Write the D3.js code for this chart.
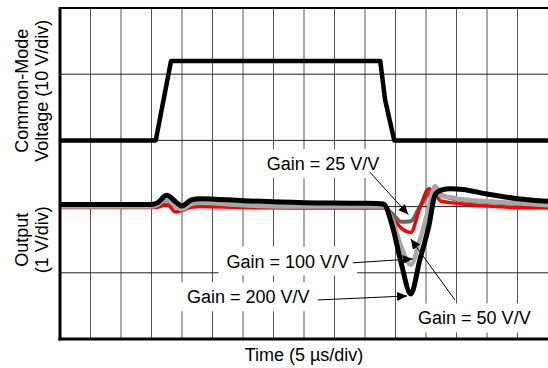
<!DOCTYPE html>
<html><head><meta charset="utf-8">
<script src="https://cdn.jsdelivr.net/npm/d3@7"></script>
<style>
html,body{margin:0;padding:0;background:#fff;}
svg{display:block;}
text{font-family:"Liberation Sans",Arial,sans-serif;fill:#000;}
</style></head><body>
<svg id="chart" width="548" height="368"></svg>
<script>
// ---- data ----
const timeGrid = d3.range(5, 80, 5);          // µs, 5 µs/div
const divGrid = [1, 2, 3, 4];                 // vertical divisions
const cmTime  = [0, 15.7, 18.2, 52.5, 53.3, 54.8, 80];
const cmVolts = [0, 0, 12, 12, 6.1, 0, 0];    // 10 V/div
const outTime = [0, 15, 16, 17.5, 19, 20, 21.5, 23, 30, 40, 50, 53, 54.5, 56, 57.5, 59, 60.5, 61.5, 62.5, 64, 66, 70, 75, 80];
const gain25  = [0, 0, 0.02, 0.10, 0.00, -0.03, 0.03, 0.05, 0.02, 0.00, 0.00, 0.00, -0.11, -0.23, -0.22, 0.00, 0.20, 0.27, 0.18, 0.13, 0.10, 0.07, 0.04, 0.02];
const gain50  = [-0.015, -0.015, -0.01, 0.03, -0.08, -0.06, -0.01, 0.00, -0.015, -0.02, -0.02, -0.02, -0.17, -0.33, -0.39, -0.02, 0.27, 0.19, 0.08, 0.06, 0.04, 0.01, -0.015, -0.02];
const gain100 = [0, 0, 0.03, 0.12, 0.00, -0.04, 0.04, 0.06, 0.02, 0.00, 0.00, 0.00, -0.20, -0.62, -0.88, -0.50, 0.00, 0.31, 0.16, 0.14, 0.11, 0.08, 0.05, 0.02];
const gain200 = [0.03, 0.03, 0.06, 0.17, 0.07, 0.01, 0.10, 0.12, 0.09, 0.06, 0.05, 0.04, -0.30, -0.88, -1.32, -0.80, -0.28, 0.18, 0.25, 0.27, 0.26, 0.19, 0.12, 0.08];
const gainLabels = ["Gain = 25 V/V", "Gain = 50 V/V", "Gain = 100 V/V", "Gain = 200 V/V"];
const yTitles = [["Common-Mode", "Voltage (10 V/div)"], ["Output", "(1 V/div)"]];
const xTitle = "Time (5 µs/div)";

// ---- layout ----
const L = 60, R = 548, T = 8, B = 339;
const svg = d3.select("#chart");
const x = d3.scaleLinear().domain([0, 80]).range([L, R]);
const yDiv = d3.scaleLinear().domain([0, 5]).range([B, T]);
const yCM = d3.scaleLinear().domain([-30, 20]).range([B, T]);
const yOut = d3.scaleLinear().domain([-2, 3]).range([B, T]);

svg.append("defs").append("clipPath").attr("id", "clip")
  .append("rect").attr("x", L).attr("y", T).attr("width", R - L).attr("height", B - T);
svg.select("defs").append("marker").attr("id", "arr")
  .attr("markerUnits", "userSpaceOnUse").attr("markerWidth", 11).attr("markerHeight", 9)
  .attr("refX", 10).attr("refY", 4.5).attr("orient", "auto")
  .append("path").attr("d", "M0,0 L10,4.5 L0,9 Z").attr("fill", "#000");

// grid
const g = svg.append("g");
g.selectAll("line.v").data(timeGrid).join("line").attr("class", "v")
  .attr("x1", d => x(d)).attr("x2", d => x(d)).attr("y1", T).attr("y2", B)
  .attr("stroke", "#555").attr("stroke-width", 1);
g.selectAll("line.h").data(divGrid).join("line").attr("class", "h")
  .attr("x1", L).attr("x2", R).attr("y1", d => yDiv(d)).attr("y2", d => yDiv(d))
  .attr("stroke", "#222").attr("stroke-width", 1);

// annotations layout (data coordinates: time µs, output volts)
const annot = [
  {i: 0, text: [33.9, 0.553], from: [50.8, 0.52], to: [57.1, -0.12]},
  {i: 1, text: [58.7, -1.78], from: [64.75, -1.41], to: [57.5, -0.49]},
  {i: 2, text: [27.3, -0.92], from: [48.0, -0.85], to: [57.8, -0.79]},
  {i: 3, text: [20.8, -1.46], from: [42.3, -1.41], to: [56.9, -1.35]}
];
const boxLayer = svg.append("g");
const plot = svg.append("g").attr("clip-path", "url(#clip)");
const annLayer = svg.append("g");

annot.forEach(a => {
  const t = annLayer.append("text").attr("x", x(a.text[0])).attr("y", yOut(a.text[1]))
    .attr("font-size", 18).text(gainLabels[a.i]);
  const bb = t.node().getBBox();
  boxLayer.append("rect").attr("x", bb.x - 8).attr("y", bb.y - 5)
    .attr("width", bb.width + 16).attr("height", bb.height + 9).attr("fill", "#fff");
});

// common mode
const cmLine = d3.line().x((d, i) => x(cmTime[i])).y(d => yCM(d)).curve(d3.curveLinear);
plot.append("path").datum(cmVolts).attr("d", cmLine).attr("fill", "none")
  .attr("stroke", "#000").attr("stroke-width", 4.5).attr("stroke-linejoin", "round");

// outputs
const outLine = d3.line().x((d, i) => x(outTime[i])).y(d => yOut(d)).curve(d3.curveMonotoneX);
const series = [
  {v: gain25, c: "#666666", w: 4},
  {v: gain50, c: "#ff0000", w: 3.5},
  {v: gain100, c: "#a8a8a8", w: 4.5},
  {v: gain200, c: "#000000", w: 5}
];
series.forEach(s => {
  plot.append("path").datum(s.v).attr("d", outLine).attr("fill", "none")
    .attr("stroke", s.c).attr("stroke-width", s.w).attr("stroke-linejoin", "round");
});

// arrows
annot.forEach(a => {
  annLayer.append("line").attr("x1", x(a.from[0])).attr("y1", yOut(a.from[1]))
    .attr("x2", x(a.to[0])).attr("y2", yOut(a.to[1]))
    .attr("stroke", "#000").attr("stroke-width", 1).attr("marker-end", "url(#arr)");
});

// frame
svg.append("line").attr("x1", L).attr("x2", R).attr("y1", T).attr("y2", T).attr("stroke", "#000").attr("stroke-width", 2);
svg.append("line").attr("x1", L).attr("x2", L).attr("y1", T - 1).attr("y2", B + 1.5).attr("stroke", "#000").attr("stroke-width", 3);
svg.append("line").attr("x1", L - 1.5).attr("x2", R).attr("y1", B).attr("y2", B).attr("stroke", "#000").attr("stroke-width", 3);

// axis titles
const yCenters = [yDiv(3.75), yDiv(1.5)];
yTitles.forEach((lines, k) => {
  lines.forEach((s, j) => {
    svg.append("text").attr("transform", `translate(${28 + 20 * j},${yCenters[k]}) rotate(-90)`)
      .attr("text-anchor", "middle").attr("font-size", 18).text(s);
  });
});
svg.append("text").attr("x", (L + R) / 2).attr("y", 361).attr("text-anchor", "middle")
  .attr("font-size", 18).text(xTitle);
</script>
</body></html>
